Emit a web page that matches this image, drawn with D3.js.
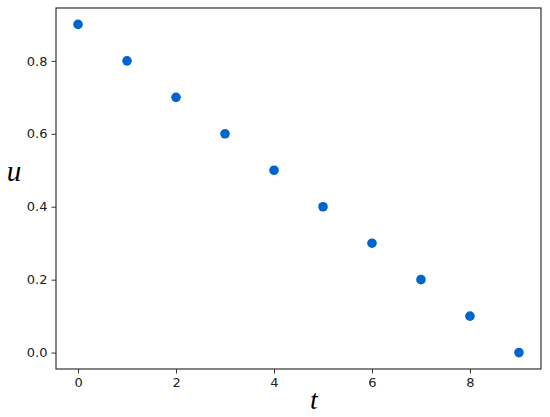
<!DOCTYPE html>
<html><head><meta charset="utf-8">
<script src="https://cdn.jsdelivr.net/npm/d3@7"></script>
<style>body{margin:0;background:#fff}svg{display:block}</style>
</head><body>
<script>
const tValues = [0,1,2,3,4,5,6,7,8,9];
const uValues = [0.9,0.8,0.7,0.6,0.5,0.4,0.3,0.2,0.1,0.0];
const xTicks = [0,2,4,6,8];
const yTicks = [0.0,0.2,0.4,0.6,0.8];

const W=550,H=417;
const m={left:56,right:9,top:8,bottom:48};
const svg=d3.select("body").append("svg").attr("width",W).attr("height",H);
const x=d3.scaleLinear().domain([-0.45,9.45]).range([m.left,W-m.right]);
const y=d3.scaleLinear().domain([-0.045,0.945]).range([H-m.bottom,m.top]);

const font="'DejaVu Sans', sans-serif";
const xa=svg.append("g").attr("transform",`translate(0,${H-m.bottom})`)
  .call(d3.axisBottom(x).tickValues(xTicks).tickFormat(d3.format("d")).tickSize(4.5).tickPadding(4));
const ya=svg.append("g").attr("transform",`translate(${m.left},0)`)
  .call(d3.axisLeft(y).tickValues(yTicks).tickFormat(d3.format(".1f")).tickSize(4.5).tickPadding(4));
[xa,ya].forEach(a=>{
  a.select(".domain").remove();
  a.selectAll("line").attr("stroke","#333").attr("stroke-width",1);
  a.selectAll("text").attr("fill","#222").style("font-family",font).style("font-size","13px");
});
svg.append("rect").attr("x",m.left).attr("y",m.top).attr("width",W-m.left-m.right).attr("height",H-m.top-m.bottom)
  .attr("fill","none").attr("stroke","#333").attr("stroke-width",1.2);

svg.append("g").selectAll("circle").data(tValues).join("circle")
  .attr("cx",d=>x(d)).attr("cy",(d,i)=>y(uValues[i])).attr("r",4.8).attr("fill","#0066cc");

svg.append("text").attr("x",314).attr("y",409).attr("text-anchor","middle")
  .style("font-family","'Liberation Serif', serif").style("font-style","italic").style("font-size","28px").text("t");
svg.append("text").attr("x",14).attr("y",181).attr("text-anchor","middle")
  .style("font-family","'Liberation Serif', serif").style("font-style","italic").style("font-size","29px").text("u");
</script>
</body></html>
